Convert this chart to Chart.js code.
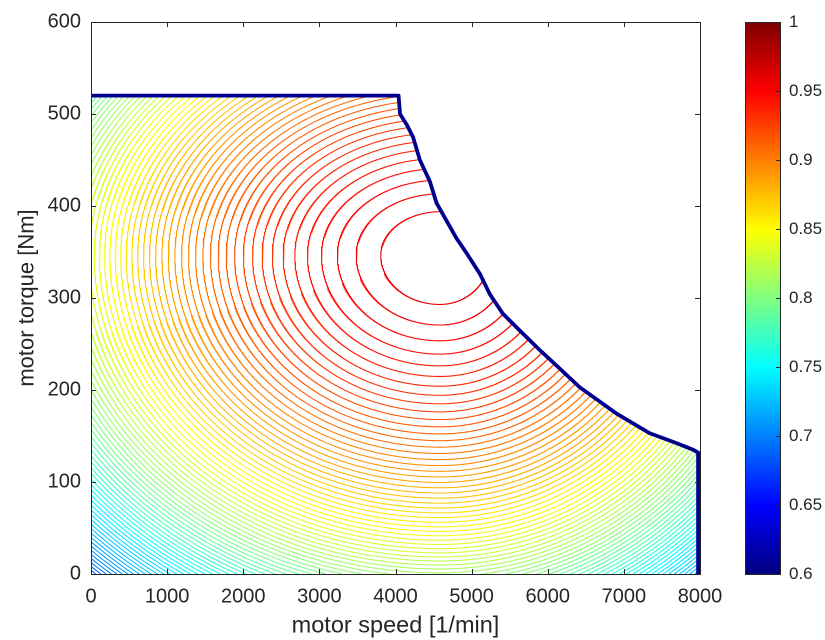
<!DOCTYPE html>
<html>
<head>
<meta charset="utf-8">
<script src="https://cdn.jsdelivr.net/npm/chart.js@4.4.1/dist/chart.umd.min.js"></script>
<style>
  html, body { margin: 0; padding: 0; background: #ffffff; }
  canvas { display: block; }
</style>
</head>
<body>
<canvas id="map" width="825" height="640" style="width:825px;height:640px"></canvas>
<script>
// Axis ticks
const speedTicks = [0, 1000, 2000, 3000, 4000, 5000, 6000, 7000, 8000];
const torqueTicks = [0, 100, 200, 300, 400, 500, 600];
const colorbarTicks = [0.6, 0.65, 0.7, 0.75, 0.8, 0.85, 0.9, 0.95, 1];

// Full-load torque limit of the motor (speed in 1/min, torque in Nm)
const envelopeSpeed  = [0, 4040, 4060, 4150, 4230, 4320, 4450, 4540, 4670, 4800, 4940, 5110, 5240, 5410, 5640, 5900, 6070, 6420, 6910, 7340, 7700, 7910, 7975, 7975];
const envelopeTorque = [520, 520, 500, 488, 475, 450, 427, 403, 384, 365, 348, 326, 304, 283, 264, 243, 230, 203, 174, 153, 142, 135, 132, 0];

// Efficiency surface: best point and how fast efficiency falls off around it
const peakPoint = [4585, 347];          // speed, torque
const peakEfficiency = 0.96;
const speedSpread = [12983, 11000];     // below / above the best speed
const torqueSpread = [900, 780];        // below / above the best torque

// Contour levels (evenly spaced, as chosen by the contour routine)
const levelStep = 0.0036;
const contourLevels = Array.from({ length: 99 }, (_, k) => +(0.6 + (k + 1) * levelStep).toFixed(4));

const colorMin = 0.6, colorMax = 1.0;

function jet(v) {
  const p = Math.min(1, Math.max(0, (v - colorMin) / (colorMax - colorMin)));
  const c = t => Math.round(255 * Math.min(1, Math.max(0, 1.5 - Math.abs(4 * p - t))));
  return `rgb(${c(3)},${c(2)},${c(1)})`;
}

// Torque limit at a given speed (linear between the limit-curve points)
function torqueLimit(n) {
  const last = envelopeSpeed.length - 2; // final point only closes the curve down to zero torque
  if (n < envelopeSpeed[0] || n > envelopeSpeed[last]) return -1;
  for (let i = 0; i < last; i++) {
    const a = envelopeSpeed[i], b = envelopeSpeed[i + 1];
    if (n >= a && n <= b) {
      const t = b === a ? 0 : (n - a) / (b - a);
      return envelopeTorque[i] + t * (envelopeTorque[i + 1] - envelopeTorque[i]);
    }
  }
  return -1;
}
function insideMap(p) {
  return p.x >= 0 && p.y >= 0 && p.y <= torqueLimit(p.x);
}

// Point on the iso-efficiency curve for a level, at angle th around the best point
function ringPoint(level, th) {
  const r = Math.sqrt(peakEfficiency - level);
  const c = Math.cos(th), s = Math.sin(th);
  return {
    x: peakPoint[0] + r * c * (c < 0 ? speedSpread[0] : speedSpread[1]),
    y: peakPoint[1] + r * s * (s < 0 ? torqueSpread[0] : torqueSpread[1])
  };
}

// Iso-efficiency line, cut to the operating area; gaps are NaN points
function traceLevel(level) {
  const M = 2400;
  const th = i => (i / M) * 2 * Math.PI;
  const ins = [];
  for (let i = 0; i < M; i++) ins.push(insideMap(ringPoint(level, th(i))));
  const start = ins.indexOf(false);
  const out = [];
  if (start < 0) {
    for (let i = 0; i <= M; i++) out.push(ringPoint(level, th(i)));
    return out;
  }
  if (ins.indexOf(true) < 0) return out;
  const edge = (ta, tb) => {
    for (let k = 0; k < 30; k++) {
      const tm = (ta + tb) / 2;
      if (insideMap(ringPoint(level, tm))) ta = tm; else tb = tm;
    }
    return ringPoint(level, ta);
  };
  let prevIn = false, prevT = th(start);
  for (let j = 1; j <= M; j++) {
    const i = (start + j) % M;
    const t = th(start + j);
    const cur = ins[i];
    if (cur && !prevIn) { out.push(edge(t, prevT)); out.push(ringPoint(level, t)); }
    else if (cur && prevIn) { out.push(ringPoint(level, t)); }
    else if (!cur && prevIn) { out.push(edge(prevT, t)); out.push({ x: NaN, y: NaN }); }
    prevIn = cur; prevT = t;
  }
  return out;
}

const axisColor = '#262626';
const fontFamily = '"Liberation Sans", Arial, Helvetica, sans-serif';
const tickFontSize = 20;
const titleFontSize = 23.5;
const colorbarFontSize = 17;

const datasets = [{
  label: 'torque limit',
  data: envelopeSpeed.map((x, i) => ({ x, y: envelopeTorque[i] })),
  borderColor: '#00008f',
  borderWidth: 3.8,
  borderJoinStyle: 'round',
  borderCapStyle: 'round'
}];
contourLevels.forEach(level => {
  const pts = traceLevel(level);
  if (pts.length) {
    datasets.push({ label: 'eta ' + level, data: pts, borderColor: jet(level), borderWidth: 1.05 });
  }
});

// Box, inward tick marks and colorbar
const frameAndColorbar = {
  id: 'frameAndColorbar',
  afterDraw(chart) {
    const { ctx, chartArea: a, scales } = chart;
    const xs = scales.x, ys = scales.y;
    const tick = 5;
    ctx.save();
    ctx.strokeStyle = axisColor;
    ctx.lineWidth = 1;
    ctx.beginPath();
    ctx.rect(Math.round(a.left) + 0.5, Math.round(a.top) + 0.5, Math.round(a.right - a.left), Math.round(a.bottom - a.top));
    speedTicks.forEach(v => {
      const px = Math.round(xs.getPixelForValue(v)) + 0.5;
      ctx.moveTo(px, a.bottom); ctx.lineTo(px, a.bottom - tick);
      ctx.moveTo(px, a.top); ctx.lineTo(px, a.top + tick);
    });
    torqueTicks.forEach(v => {
      const py = Math.round(ys.getPixelForValue(v)) + 0.5;
      ctx.moveTo(a.left, py); ctx.lineTo(a.left + tick, py);
      ctx.moveTo(a.right, py); ctx.lineTo(a.right - tick, py);
    });
    ctx.stroke();

    // colorbar
    const cbL = 745, cbR = 780, cbT = Math.round(a.top), cbB = Math.round(a.bottom);
    const H = cbB - cbT;
    const bands = 256;
    for (let i = 0; i < bands; i++) {
      const v0 = colorMin + (colorMax - colorMin) * (i + 0.5) / bands;
      ctx.fillStyle = jet(v0);
      const y1 = cbB - H * (i + 1) / bands, y0 = cbB - H * i / bands;
      ctx.fillRect(cbL, y1, cbR - cbL, y0 - y1 + 0.6);
    }
    ctx.strokeStyle = axisColor;
    ctx.beginPath();
    ctx.rect(cbL + 0.5, cbT + 0.5, cbR - cbL, H);
    ctx.font = `${colorbarFontSize}px ${fontFamily}`;
    ctx.fillStyle = axisColor;
    ctx.textAlign = 'left';
    ctx.textBaseline = 'middle';
    colorbarTicks.forEach(v => {
      const py = Math.round(cbB - H * (v - colorMin) / (colorMax - colorMin)) + 0.5;
      ctx.moveTo(cbR, py); ctx.lineTo(cbR - 4, py);
      ctx.fillText(String(v), 789, py);
    });
    ctx.stroke();
    ctx.restore();
  }
};

new Chart(document.getElementById('map'), {
  type: 'scatter',
  data: { datasets },
  options: {
    responsive: false,
    devicePixelRatio: 2,
    animation: false,
    events: [],
    showLine: true,
    parsing: true,
    elements: { point: { radius: 0 }, line: { tension: 0 } },
    layout: { padding: { left: 0, right: 125, top: 20, bottom: 0 } },
    plugins: { legend: { display: false }, tooltip: { enabled: false } },
    scales: {
      x: {
        type: 'linear', min: 0, max: 8000,
        afterBuildTicks: s => { s.ticks = speedTicks.map(value => ({ value })); },
        afterFit: s => { s.height = 66; },
        grid: { display: false, drawTicks: false },
        border: { display: false },
        ticks: { color: axisColor, padding: 11, maxRotation: 0, callback: v => String(v), font: { family: fontFamily, size: tickFontSize } },
        title: { display: true, text: 'motor speed [1/min]', color: axisColor, padding: { top: 0, bottom: 0 }, font: { family: fontFamily, size: titleFontSize } }
      },
      y: {
        type: 'linear', min: 0, max: 600,
        afterBuildTicks: s => { s.ticks = torqueTicks.map(value => ({ value })); },
        afterFit: s => { s.width = 91; },
        grid: { display: false, drawTicks: false },
        border: { display: false },
        ticks: { color: axisColor, padding: 10, callback: v => String(v), font: { family: fontFamily, size: tickFontSize } },
        title: { display: true, text: 'motor torque [Nm]', color: axisColor, padding: { top: 14, bottom: 0 }, font: { family: fontFamily, size: 22 } }
      }
    }
  },
  plugins: [frameAndColorbar]
});
</script>
</body>
</html>
